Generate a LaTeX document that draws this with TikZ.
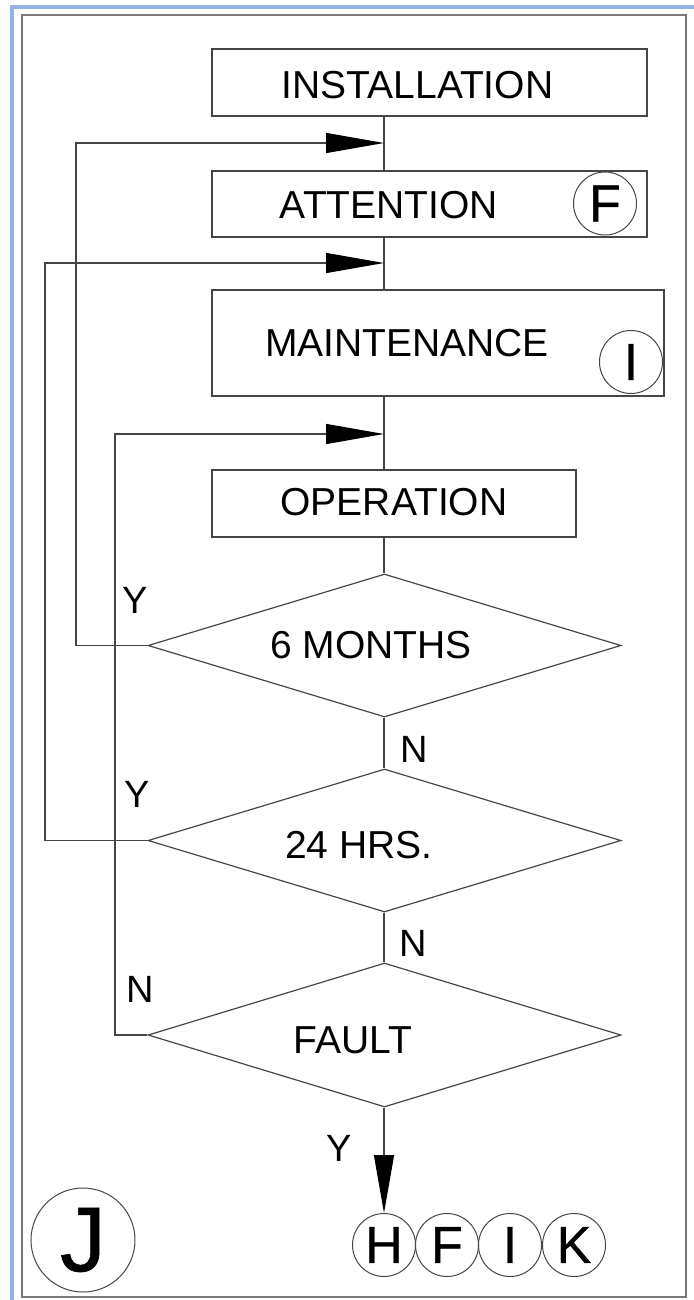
\documentclass[tikz,border=0pt]{standalone}
\usepackage{fontspec}
\setmainfont{Liberation Sans}
\newfontfamily\circfont[FakeBold=0.6]{Liberation Sans}
\usetikzlibrary{shapes.geometric,arrows.meta}
\definecolor{frameblue}{RGB}{148,178,228}
\definecolor{framegray}{RGB}{120,120,120}
\definecolor{linegray}{RGB}{70,70,70}
\begin{document}
\begin{tikzpicture}[x=1pt,y=-1pt,
  ln/.style={draw=linegray,line width=1.2pt},
  box/.style={ln,rectangle,inner sep=0pt},
  dia/.style={ln,diamond,inner sep=0pt,minimum width=473pt,minimum height=143pt},
  txt/.style={inner sep=0pt,font=\fontsize{39}{39}\selectfont},
  lab/.style={inner sep=0pt,font=\fontsize{38}{38}\selectfont},
  circ/.style={draw=linegray,line width=1pt,circle,inner sep=0pt,minimum size=63pt,font=\circfont\fontsize{52}{52}\selectfont},
  arr/.style={-{Triangle[length=58pt,width=20pt,color=black]}}]
\useasboundingbox (0,0) rectangle (693,1300);
% frames
\draw[frameblue,line width=3.5pt] (12,1302) -- (12,7) -- (695,7);
\draw[framegray,line width=1.3pt] (22,15) rectangle (686,1297);
% boxes
\node[box,minimum width=435pt,minimum height=67pt] (inst) at (429.5,82.5) {};
\node[txt] (tinst) at (417.5,85) {INSTALLATION};
\node[box,minimum width=435pt,minimum height=66pt] (att) at (429.5,204) {};
\node[txt] (tatt) at (389,205.5) {ATTENTION};
\node[circ] (cF1) at (605,203.5) {F};
\node[box,minimum width=452pt,minimum height=106pt] (maint) at (438,343) {};
\node[txt] (tmaint) at (407,343) {MAINTENANCE};
\node[circ] (cI1) at (631,362) {I};
\node[box,minimum width=364pt,minimum height=67pt] (oper) at (394,503.5) {};
\node[txt] (toper) at (394,502.5) {OPERATION};
% diamonds
\node[dia] (m6) at (384.5,645.5) {};
\node[txt] (tm6) at (371,645) {6 MONTHS};
\node[dia] (h24) at (384.5,840.5) {};
\node[txt] (th24) at (359,845) {24 HRS.};
\node[dia,minimum height=144pt] (fault) at (384.5,1035) {};
\node[txt] (tfault) at (353,1040) {FAULT};
% end circles
\node[circ] (cH) at (384,1245) {H};
\node[circ] (cF2) at (447,1245) {F};
\node[circ] (cI2) at (510,1245) {I};
\node[circ] (cK) at (574,1245) {K};
\node[circ,minimum size=104pt,font=\circfont\fontsize{92}{92}\selectfont] (cJ) at (83,1240) {J};
% labels
\node[lab] (y1) at (135,600) {Y};
\node[lab] (n1) at (414,749) {N};
\node[lab] (y2) at (137,794) {Y};
\node[lab] (n2) at (413,943) {N};
\node[lab] (n3) at (140,989) {N};
\node[lab] (y3) at (339,1148) {Y};
% helper coordinates
\coordinate (ax) at (384,0);
\coordinate (a1) at (384,143);
\coordinate (a2) at (384,263);
\coordinate (a3) at (384,434);
\coordinate (l1) at (76,0);
\coordinate (l2) at (45,0);
\coordinate (l3) at (115,0);
% main flow
\draw[ln] (inst.south -| ax) -- (att.north -| ax);
\draw[ln] (att.south -| ax) -- (maint.north -| ax);
\draw[ln] (maint.south -| ax) -- (oper.north -| ax);
\draw[ln] (oper.south -| ax) -- (m6.north -| ax);
\draw[ln] (m6.south -| ax) -- (h24.north -| ax);
\draw[ln] (h24.south -| ax) -- (fault.north -| ax);
\draw[ln,arr] (fault.south -| ax) -- (cH.north);
% loops
\draw[ln,arr] (m6.west) -- (m6.west -| l1) -- (a1 -| l1) -- (a1);
\draw[ln,arr] (h24.west) -- (h24.west -| l2) -- (a2 -| l2) -- (a2);
\draw[ln,arr] (fault.west) -- (fault.west -| l3) -- (a3 -| l3) -- (a3);
\end{tikzpicture}
\end{document}
